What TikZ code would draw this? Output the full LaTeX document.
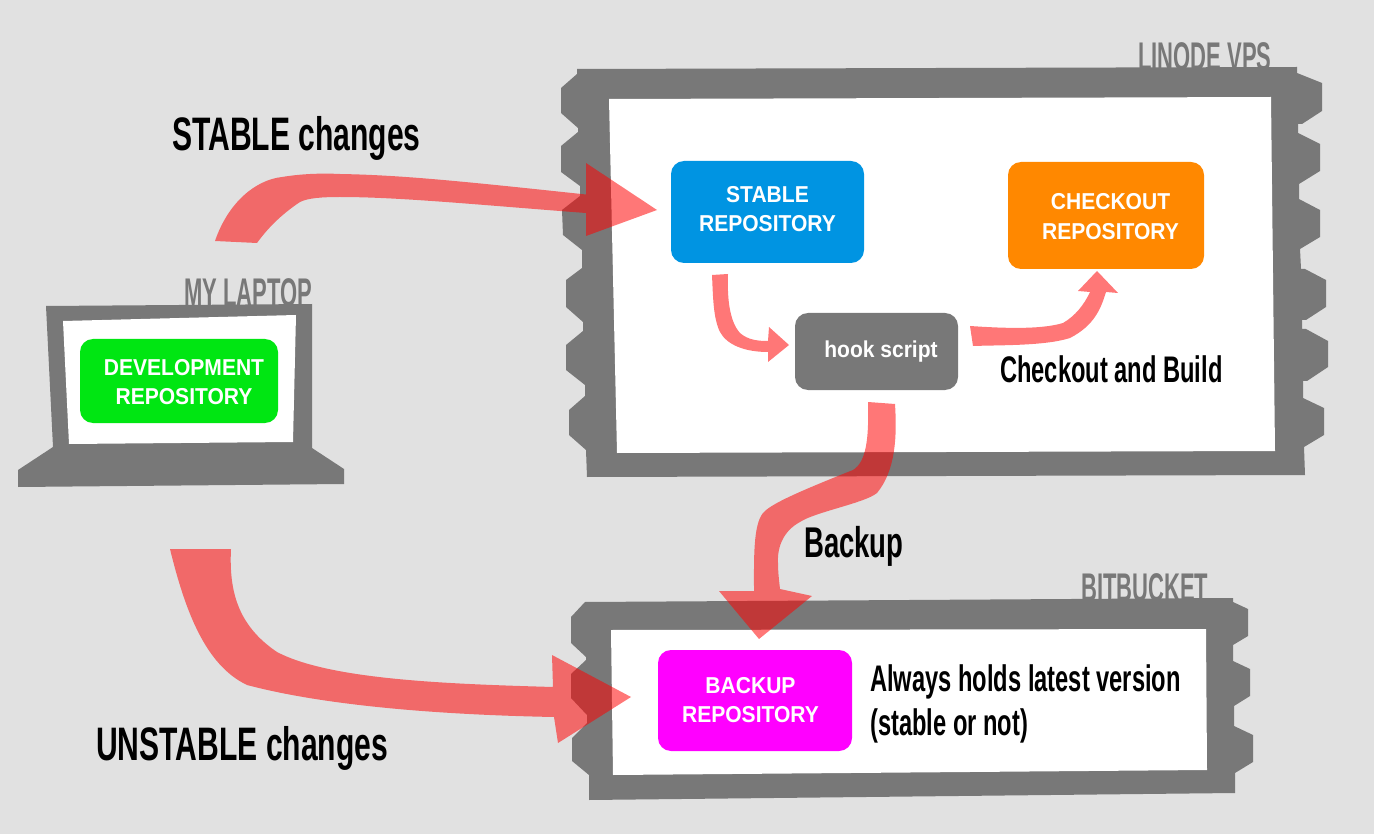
\documentclass[tikz,border=0pt]{standalone}
\usepackage{fontspec}
\newfontfamily\headfont[FakeStretch=0.64]{Liberation Sans Bold}
\newfontfamily\thinfont[FakeStretch=0.55]{Liberation Sans Bold}
\newfontfamily\boxfont[FakeStretch=0.915]{Liberation Sans Bold}
\definecolor{pagegrey}{HTML}{E1E1E1}
\definecolor{framegrey}{HTML}{787878}
\definecolor{stableblue}{HTML}{0094E2}
\definecolor{checkoutorange}{HTML}{FF8800}
\definecolor{devgreen}{HTML}{00E612}
\definecolor{backupmagenta}{HTML}{FF00FF}
\tikzset{
	repobox/.style={rounded corners=13pt, minimum width=#1, inner sep=0pt},
	repotext/.style={text=white, font=\boxfont\fontsize{23}{29.5}\selectfont, align=center, inner sep=0pt},
	flow/.style={fill=red, opacity=.535},
	hosttext/.style={text=framegrey, anchor=base west, inner sep=0pt, font=\thinfont\fontsize{40}{40}\selectfont},
	bigtext/.style={anchor=base west, inner sep=0pt, font=\headfont\fontsize{47}{47}\selectfont},
	smalltext/.style={anchor=base west, inner sep=0pt, font=\headfont\fontsize{37}{37}\selectfont}
}
\begin{document}
\begin{tikzpicture}[x=1pt, y=-1pt]
	\fill[pagegrey] (0,0) rectangle (1374,834);
	\useasboundingbox (0,0) rectangle (1374,834);
%% Host names, cut off by the frames
	\node[hosttext] (laptopname) at (184,306.5) {MY LAPTOP};
	\node[hosttext] (linodename) at (1138,70.5) {LINODE VPS};
	\node[hosttext] (bitbucketname) at (1081,601.5) {BITBUCKET};
%% Laptop
	\fill[framegrey] (46,306) -- (312,304) -- (312,448) -- (344,469) -- (344,484) -- (18,487) -- (18,470) -- (53,447) -- cycle;
	\fill[white] (63,321) -- (296,315) -- (293,442) -- (69,444) -- cycle;
%% Linode frame
	\fill[framegrey] (577,69) -- (1297,67) -- (1297,73) -- (1322,83) -- (1322,111) -- (1302,124) -- (1298,124) -- (1298,133)
		-- (1320,144) -- (1320,171) -- (1299,184) -- (1299,199) -- (1320,210) -- (1320,237) -- (1300,249) -- (1301,269)
		-- (1305,269) -- (1326,280) -- (1326,307) -- (1306,320) -- (1302,320) -- (1302,329) -- (1306,329) -- (1328,341)
		-- (1328,367) -- (1307,381) -- (1303,381) -- (1303,398) -- (1324,408) -- (1324,435) -- (1304,447) -- (1305,475)
		-- (587,477) -- (586,450) -- (569,435) -- (569,410) -- (585,396) -- (585,385) -- (566,370) -- (566,345)
		-- (583,331) -- (583,322) -- (566,307) -- (566,280) -- (582,268) -- (582,250) -- (563,235) -- (562,210)
		-- (580,196) -- (580,186) -- (561,172) -- (561,146) -- (578,132) -- (578,128) -- (561,113) -- (561,88) -- (577,74) -- cycle;
	\fill[white] (609,99) -- (1271,97) -- (1275,451) -- (617,453) -- cycle;
%% Bitbucket frame
	\fill[framegrey] (585,602) -- (1233,598) -- (1233,602) -- (1248,609) -- (1248,636) -- (1233,645) -- (1233,661) -- (1250,669)
		-- (1250,696) -- (1234,706) -- (1234,726) -- (1253,735) -- (1253,762) -- (1235,773) -- (1235,793) -- (589,800)
		-- (589,775) -- (572,761) -- (572,738) -- (587,723) -- (587,715) -- (571,698) -- (571,674) -- (586,660) -- (586,657)
		-- (571,643) -- (571,617) -- cycle;
	\fill[white] (611,630) -- (1206,629) -- (1207,770) -- (613,775) -- cycle;
%% Repositories
	\node[repobox=198pt, minimum height=84pt, fill=devgreen, label={[repotext, xshift=5pt, yshift=-1pt]center:{DEVELOPMENT\\REPOSITORY}}] (dev) at (179,381) {};
	\node[repobox=193pt, minimum height=102pt, fill=stableblue, label={[repotext, yshift=3pt]center:{STABLE\\REPOSITORY}}] (stable) at (767.5,212) {};
	\node[repobox=196pt, minimum height=107pt, fill=checkoutorange, label={[repotext, xshift=4.5pt, yshift=-1pt]center:{CHECKOUT\\REPOSITORY}}] (checkout) at (1106,215.5) {};
	\node[repobox=163pt, minimum height=77pt, fill=framegrey, label={[repotext, xshift=4.5pt]center:{hook script}}] (hook) at (876.5,351.5) {};
	\node[repobox=194pt, minimum height=101pt, fill=backupmagenta, label={[repotext, xshift=-4.5pt, yshift=0.5pt]center:{BACKUP\\REPOSITORY}}] (backup) at (755,700.5) {};
%% Arrow tips
	\coordinate (stabletip) at (657,210);
	\coordinate (backuptip) at (631,697);
	\coordinate (hooktip) at (789,345);
	\coordinate (checkouttip) at (1097,271);
	\coordinate (bitbuckettip) at (759,639);
%Arrows
	\fill[flow] (215,241) .. controls (228,203) and (255,180) .. (282,177) .. controls (300,174) and (320,173) .. (340,174)
		.. controls (400,175) and (460,181) .. (586,194.5) -- (586,163) -- (stabletip) -- (586,236) -- (586,213)
		.. controls (480,205) and (400,197) .. (340,197) .. controls (322,197) and (308,198) .. (300,202)
		.. controls (285,212) and (270,225) .. (257,243) -- cycle;
	\fill[flow] (170,549) -- (231,549) .. controls (229,590) and (237,625) .. (277,652) .. controls (330,680) and (450,684) .. (553,687)
		-- (552,655) -- (backuptip) -- (558,743) -- (554,717) .. controls (450,715) and (330,707) .. (247,685)
		.. controls (205,665) and (185,610) .. cycle;
	\fill[flow] (712,275) -- (728,274) .. controls (727,300) and (730,322) .. (740,333) .. controls (748,340) and (758,341) .. (768,341)
		-- (769,327) -- (hooktip) -- (768,362) -- (768,352) .. controls (745,352) and (727,345) .. (720,332)
		.. controls (713,318) and (713,295) .. cycle;
	\fill[flow] (970,326) .. controls (1000,328) and (1040,330) .. (1063,323) .. controls (1075,316) and (1084,305) .. (1090,292)
		-- (1078,291) -- (checkouttip) -- (1118,293) -- (1106,292) .. controls (1101,308) and (1095,325) .. (1070,338)
		.. controls (1045,346) and (1000,345) .. (973,346) -- cycle;
	\fill[flow] (868,402) -- (895,404) .. controls (897,435) and (896,470) .. (877,493) .. controls (865,503) and (815,512) .. (800,522)
		.. controls (785,530) and (777,545) .. (778,563) .. controls (778,572) and (779,580) .. (780,589)
		-- (812,596) -- (bitbuckettip) -- (719,591) -- (754,591) .. controls (754,560) and (753,525) .. (763,513)
		.. controls (770,505) and (790,495) .. (853,470) .. controls (866,462) and (869,440) .. cycle;
%Texts
	\node[bigtext] (stablechanges) at (172,151) {STABLE changes};
	\node[bigtext] (unstablechanges) at (96,760) {UNSTABLE changes};
	\node[smalltext, font=\headfont\fontsize{43}{43}\selectfont] (backupnote) at (804,557) {Backup};
	\node[smalltext] (buildnote) at (1000,383) {Checkout and Build};
	\node[smalltext] (alwaysnote) at (870,691) {Always holds latest version};
	\node[smalltext] (stablenote) at (870,735) {(stable or not)};
\end{tikzpicture}
\end{document}
